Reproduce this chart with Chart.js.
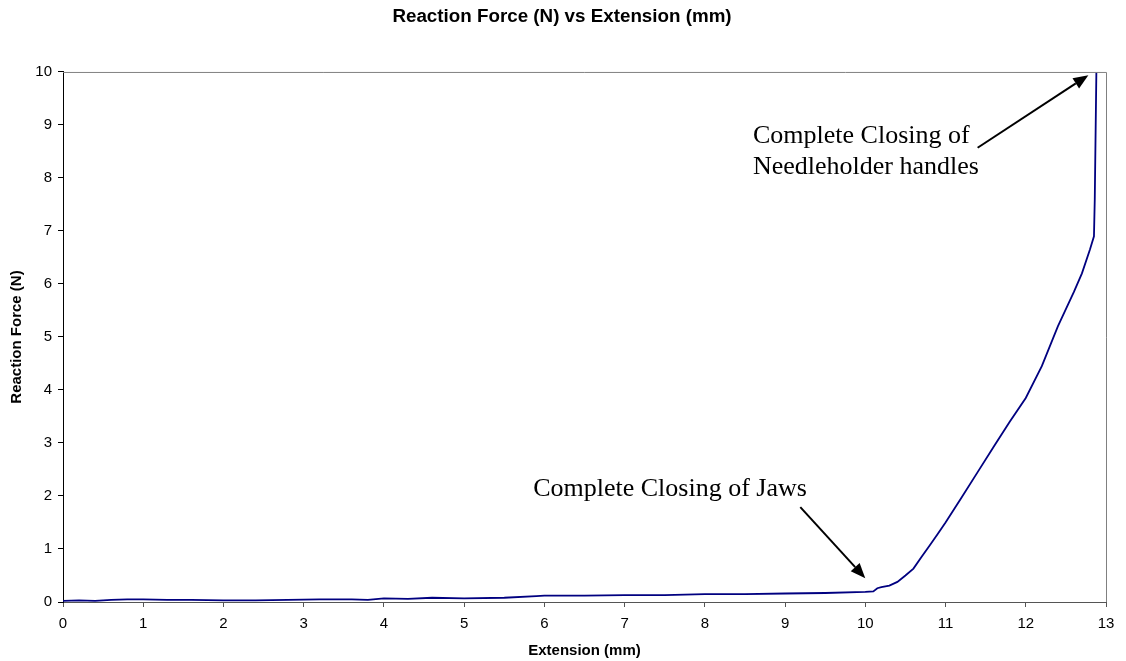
<!DOCTYPE html>
<html>
<head>
<meta charset="utf-8">
<script src="https://cdn.jsdelivr.net/npm/chart.js@4.4.0/dist/chart.umd.min.js"></script>
<style>
  html, body { margin: 0; padding: 0; background: #fff; }
  #wrap { width: 1126px; height: 661px; }
</style>
</head>
<body>
<div id="wrap"><canvas id="myChart" width="1126" height="661"></canvas></div>
<script>
// extension (mm) and reaction force (N)
var extension = [0, 0.2, 0.4, 0.6, 0.8, 1.0, 1.3, 1.6, 2.0, 2.4, 2.8, 3.2, 3.6, 3.8, 4.0, 4.3, 4.6, 5.0, 5.5, 5.9,
  6.0, 6.5, 7.0, 7.5, 8.0, 8.5, 9.0, 9.5, 10.0, 10.1, 10.15, 10.2, 10.3, 10.4, 10.5, 10.6, 10.7, 10.8, 10.9,
  11.0, 11.2, 11.4, 11.6, 11.8, 12.0, 12.2, 12.4, 12.6, 12.7, 12.8, 12.85, 12.86, 12.88];
var force = [0.02, 0.03, 0.02, 0.04, 0.05, 0.05, 0.04, 0.04, 0.03, 0.03, 0.04, 0.05, 0.05, 0.04, 0.07, 0.06, 0.08, 0.07, 0.08, 0.11,
  0.12, 0.12, 0.13, 0.13, 0.15, 0.15, 0.16, 0.17, 0.19, 0.2, 0.26, 0.28, 0.31, 0.38, 0.5, 0.63, 0.85, 1.06, 1.28,
  1.5, 1.97, 2.45, 2.93, 3.4, 3.85, 4.45, 5.2, 5.85, 6.2, 6.65, 6.9, 7.6, 10];

var xTicks = [0, 1, 2, 3, 4, 5, 6, 7, 8, 9, 10, 11, 12, 13];
var yTicks = [0, 1, 2, 3, 4, 5, 6, 7, 8, 9, 10];

// annotations: text lines at [x, y] data points, arrows from -> to
var notes = [
  { lines: ['Complete Closing of Jaws'], x: 5.86, y: 2.0, from: [9.19, 1.79], to: [10.0, 0.45] },
  { lines: ['Complete Closing of', 'Needleholder handles'], x: 8.6, y: 8.66, from: [11.4, 8.57], to: [12.78, 9.94] }
];

var pts = extension.map(function (e, i) { return { x: e, y: force[i] }; });
var sans = '"Liberation Sans", Arial, sans-serif';

var frame = {
  id: 'frame',
  afterDraw: function (chart) {
    var c = chart.ctx, a = chart.chartArea;
    var xs = chart.scales.x, ys = chart.scales.y;
    c.save();
    c.strokeStyle = '#808080';
    c.lineWidth = 1;
    c.beginPath();
    c.moveTo(a.left, a.top + 0.5);
    c.lineTo(a.right + 0.5, a.top + 0.5);
    c.lineTo(a.right + 0.5, a.bottom);
    c.stroke();

    c.fillStyle = '#000';
    c.strokeStyle = '#000';
    c.font = '26px "Liberation Serif", "Times New Roman", serif';
    c.textBaseline = 'alphabetic';
    notes.forEach(function (n) {
      var px = xs.getPixelForValue(n.x), py = ys.getPixelForValue(n.y);
      n.lines.forEach(function (t, i) { c.fillText(t, px, py + i * 31); });
      var x1 = xs.getPixelForValue(n.from[0]), y1 = ys.getPixelForValue(n.from[1]);
      var x2 = xs.getPixelForValue(n.to[0]), y2 = ys.getPixelForValue(n.to[1]);
      var ang = Math.atan2(y2 - y1, x2 - x1), len = 15, w = 6;
      var bx = x2 - len * Math.cos(ang), by = y2 - len * Math.sin(ang);
      c.lineWidth = 2;
      c.beginPath();
      c.moveTo(x1, y1);
      c.lineTo(bx, by);
      c.stroke();
      c.beginPath();
      c.moveTo(x2, y2);
      c.lineTo(bx + w * Math.sin(ang), by - w * Math.cos(ang));
      c.lineTo(bx - w * Math.sin(ang), by + w * Math.cos(ang));
      c.closePath();
      c.fill();
    });
    c.restore();
  }
};

var ctx = document.getElementById('myChart').getContext('2d');
var myChart = new Chart(ctx, {
  type: 'line',
  data: {
    datasets: [{
      label: 'Reaction Force',
      data: pts,
      borderColor: '#000080',
      borderWidth: 1.8,
      pointRadius: 0,
      fill: false,
      tension: 0
    }]
  },
  options: {
    responsive: false,
    animation: false,
    layout: { padding: { left: 18, right: 20, top: 0, bottom: 0 } },
    plugins: {
      legend: { display: false },
      tooltip: { enabled: false },
      title: {
        display: true,
        text: 'Reaction Force (N) vs Extension (mm)',
        color: '#000',
        font: { family: sans, size: 18.8, weight: 'bold' },
        padding: { top: 6, bottom: 43.4 }
      }
    },
    scales: {
      x: {
        type: 'linear',
        min: 0,
        max: 13,
        afterBuildTicks: function (s) { s.ticks = xTicks.map(function (v) { return { value: v }; }); },
        afterFit: function (s) { s.height = 59; },
        grid: { display: true, drawOnChartArea: false, drawTicks: true, tickLength: 5, color: '#555' },
        border: { display: true, color: '#555', width: 1 },
        ticks: { color: '#000', padding: 8, maxRotation: 0, font: { family: sans, size: 15 } },
        title: {
          display: true,
          text: 'Extension (mm)',
          color: '#000',
          padding: { top: 0, bottom: 1 },
          font: { family: sans, size: 15, weight: 'bold' }
        }
      },
      y: {
        type: 'linear',
        min: 0,
        max: 10,
        afterBuildTicks: function (s) { s.ticks = yTicks.map(function (v) { return { value: v }; }); },
        afterFit: function (s) { s.width = 45; },
        grid: { display: true, drawOnChartArea: false, drawTicks: true, tickLength: 5, color: '#000' },
        border: { display: true, color: '#000', width: 1 },
        ticks: { color: '#000', padding: 6, font: { family: sans, size: 15 } },
        title: {
          display: true,
          text: 'Reaction Force (N)',
          color: '#000',
          padding: { top: -10, bottom: 0 },
          font: { family: sans, size: 15, weight: 'bold' }
        }
      }
    }
  },
  plugins: [frame]
});
</script>
</body>
</html>
